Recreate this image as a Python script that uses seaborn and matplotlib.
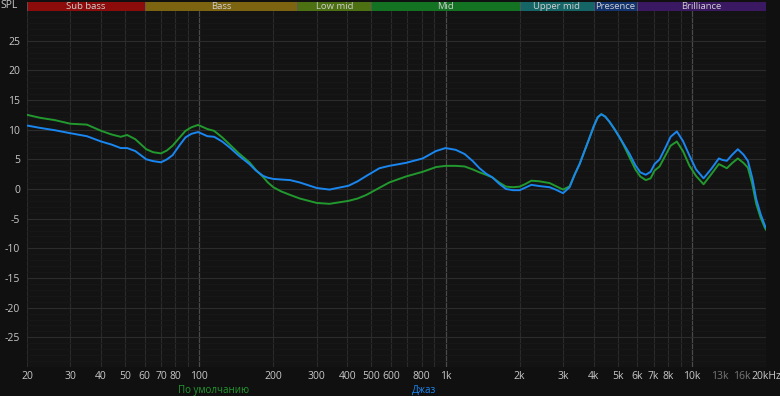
import numpy as np
import pandas as pd
import matplotlib
matplotlib.use("Agg")
import matplotlib.pyplot as plt
import seaborn as sns
from matplotlib.ticker import FixedLocator

sns.set_theme(style="dark")
plt.rcParams['font.family'] = ['Open Sans', 'DejaVu Sans']

# ---- data ----
freqs = [20, 22.6, 26, 30, 35, 40, 44, 48, 51, 55, 61, 65, 70, 74, 78, 83, 88, 93, 99,
         108, 115, 124, 133, 145, 160, 170, 182, 190, 200, 215, 234, 256, 300, 338,
         404, 440, 477, 539, 591, 690, 808, 915, 1000, 1100, 1195, 1290, 1374, 1460,
         1550, 1650, 1760, 1880, 2000, 2100, 2232, 2400, 2647, 2800, 3000, 3190, 3350,
         3502, 3848, 4000, 4150, 4292, 4450, 4636, 4850, 5090, 5300, 5588, 5900, 6180,
         6500, 6800, 7058, 7396, 7800, 8200, 8690, 9200, 9788, 10400, 11156, 12000,
         12870, 13300, 13868, 14600, 15372, 16200, 16880, 17600, 18250, 19000, 19720,
         20000]
default_db = [12.5, 12.0, 11.6, 11.0, 10.85, 9.8, 9.2, 8.8, 9.1, 8.4, 6.7, 6.2, 6.0,
              6.5, 7.3, 8.6, 9.8, 10.4, 10.8, 10.1, 9.8, 8.7, 7.5, 6.0, 4.5, 3.2, 2.0,
              1.1, 0.3, -0.4, -1.0, -1.6, -2.35, -2.5, -2.0, -1.6, -1.0, 0.2, 1.1, 2.1,
              2.9, 3.7, 3.9, 3.9, 3.8, 3.3, 2.8, 2.4, 1.95, 1.1, 0.4, 0.3, 0.4, 0.8,
              1.4, 1.3, 1.0, 0.5, -0.1, 0.45, 2.5, 4.2, 8.7, 10.6, 12.1, 12.6, 12.2,
              11.3, 10.1, 8.7, 7.3, 5.3, 3.3, 2.1, 1.5, 1.8, 3.1, 3.8, 5.6, 7.3, 8.0,
              6.4, 3.9, 2.2, 0.8, 2.5, 4.2, 3.9, 3.5, 4.4, 5.15, 4.4, 3.6, 0.8, -2.5,
              -4.8, -6.4, -6.9]
jazz_db = [10.7, 10.3, 9.9, 9.4, 8.9, 8.0, 7.5, 6.9, 6.9, 6.4, 5.0, 4.7, 4.5, 5.0,
           5.7, 7.3, 8.7, 9.3, 9.6, 8.9, 8.8, 8.0, 7.0, 5.6, 4.2, 3.1, 2.2, 1.9, 1.7,
           1.6, 1.5, 1.1, 0.17, -0.1, 0.55, 1.3, 2.2, 3.5, 3.9, 4.4, 5.15, 6.4, 6.9,
           6.6, 5.9, 4.7, 3.5, 2.6, 1.95, 0.9, 0.0, -0.2, -0.2, 0.2, 0.7, 0.5, 0.3,
           -0.1, -0.7, 0.3, 2.5, 4.2, 8.7, 10.6, 12.1, 12.6, 12.2, 11.3, 10.1, 8.7,
           7.5, 5.9, 4.0, 2.8, 2.4, 2.9, 4.2, 5.0, 6.9, 8.8, 9.7, 8.1, 5.6, 3.3, 1.8,
           3.4, 5.15, 4.9, 4.75, 5.8, 6.7, 5.8, 4.75, 1.8, -1.7, -4.2, -6.0, -6.6]
series_names = ["По умолчанию", "Джаз"]
series_colors = ["#22992e", "#1a86f0"]

band_names = ["Sub bass", "Bass", "Low mid", "Mid", "Upper mid", "Presence", "Brilliance"]
band_edges = [20, 60, 250, 500, 2000, 4000, 6000, 20000]
band_colors = ["#8c0c0c", "#7d6410", "#4c7012", "#137322", "#156566", "#12336e", "#3a1862"]

xtick_vals = [20, 30, 40, 50, 60, 70, 80, 100, 200, 300, 400, 500, 600, 800,
              1000, 2000, 3000, 4000, 5000, 6000, 7000, 8000, 10000, 13000, 16000, 20000]
xtick_labels = ["20", "30", "40", "50", "60", "70", "80", "100", "200", "300", "400",
                "500", "600", "800", "1k", "2k", "3k", "4k", "5k", "6k", "7k", "8k",
                "10k", "13k", "16k", "20kHz"]
ytick_vals = [-25, -20, -15, -10, -5, 0, 5, 10, 15, 20, 25]

df = pd.DataFrame({
    "freq": freqs * 2,
    "db": default_db + jazz_db,
    "series": [series_names[0]] * len(freqs) + [series_names[1]] * len(freqs),
})

W, H = 780, 396
bg = "#101010"
fig = plt.figure(figsize=(W / 100, H / 100), dpi=100, facecolor=bg)
L, R, T, B = 27, 766, 11, 367
ax = fig.add_axes([L / W, 1 - B / H, (R - L) / W, (B - T) / H])
ax.set_facecolor("#131313")

ax.set_xscale("log")
ax.set_xlim(20, 20000)
ax.set_ylim(-30, 30)

# grid
minor_x = [f for d in [10, 100, 1000, 10000] for f in np.arange(2, 10) * d if 20 <= f <= 20000]
for f in minor_x:
    ax.axvline(f, color="#2a2a2a", lw=0.8, zorder=0)
for f in (100, 1000, 10000):
    ax.axvline(f, color="#4a4a4a", lw=0.9, zorder=0)
for y in range(-29, 30):
    if y % 5 == 0:
        ax.axhline(y, color="#2c2c2c", lw=0.8, zorder=0)
    else:
        ax.axhline(y, color="#181818", lw=0.6, zorder=0)

palette = dict(zip(series_names, series_colors))
sns.lineplot(data=df, x="freq", y="db", hue="series", palette=palette,
             hue_order=series_names, ax=ax, lw=1.4, legend=False, sort=False)
for ln in ax.get_lines():
    ln.set_solid_joinstyle("round")

ax.set_xlabel("")
ax.set_ylabel("")
ax.xaxis.set_major_locator(FixedLocator(xtick_vals))
ax.xaxis.set_minor_locator(FixedLocator([]))
ax.set_xticklabels(xtick_labels)
ax.set_yticks(ytick_vals)
ax.set_yticklabels([str(v) for v in ytick_vals])
ax.tick_params(axis="both", colors="#c8c8c8", labelsize=7.5, length=0)
for lbl in ax.get_xticklabels():
    lbl.set_color("#c8c8c8")
    if lbl.get_text() in ("13k", "16k"):
        lbl.set_color("#777777")
for lbl in ax.get_yticklabels():
    lbl.set_color("#c8c8c8")
ax.xaxis.set_tick_params(pad=3)
ax.yaxis.set_tick_params(pad=5)
for s in ax.spines.values():
    s.set_visible(False)
ax.grid(False)

# band strip
bax = fig.add_axes([L / W, 1 - T / H, (R - L) / W, 9 / H])
bax.set_xscale("log")
bax.set_xlim(20, 20000)
bax.set_ylim(0, 1)
bax.axis("off")
for i, name in enumerate(band_names):
    lo, hi = band_edges[i], band_edges[i + 1]
    bax.axvspan(lo, hi, color=band_colors[i], lw=0)
    bax.axvline(lo, color="#5a5a5a", lw=0.6)
    bax.text(np.sqrt(lo * hi), 0.45, name, ha="center", va="center",
             color="#d0d0d0", fontsize=6.8)

fig.text(18 / W, 1 - 5 / H, "SPL", ha="right", va="center", color="#c8c8c8", fontsize=7.5)
fig.text(214 / W, 1 - 390 / H, series_names[0], ha="center", va="center",
         color=series_colors[0], fontsize=7)
fig.text(424 / W, 1 - 390 / H, series_names[1], ha="center", va="center",
         color=series_colors[1], fontsize=7)

fig.savefig("out.png", dpi=100, facecolor=bg)
